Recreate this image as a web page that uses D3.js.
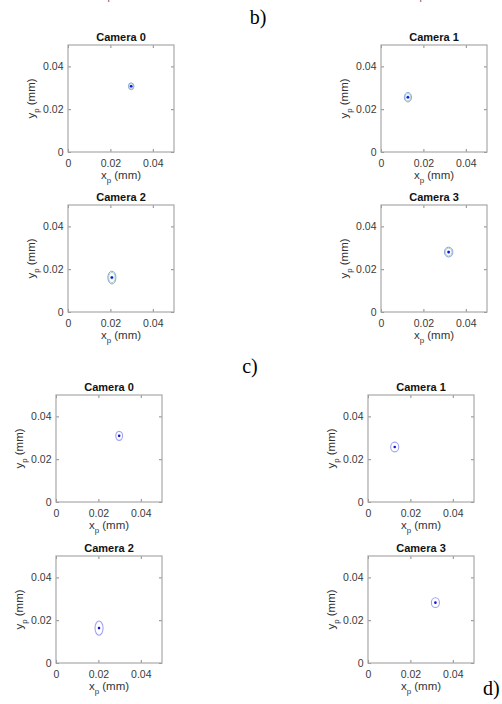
<!DOCTYPE html>
<html>
<head>
<meta charset="utf-8">
<script src="https://d3js.org/d3.v7.min.js"></script>
<style>
  body { margin: 0; background: #fff; }
  svg { display: block; font-family: "Liberation Sans", Arial, sans-serif; }
</style>
</head>
<body>
<script>
// camera names and tick labels
const cameras = ["Camera 0", "Camera 1", "Camera 2", "Camera 3"];
const tickValues = [0, 0.02, 0.04];
const tickLabels = ["0", "0.02", "0.04"];

// b) centre of each spot (mm) and ellipse half axes (mm)
const xB = [0.0298, 0.0127, 0.0207, 0.0319];
const yB = [0.0307, 0.0256, 0.0161, 0.0280];
const rxB = [0.0013, 0.0017, 0.0019, 0.0020];
const ryB = [0.0016, 0.0022, 0.0030, 0.0023];

// c) same for the second set
const xC = [0.0298, 0.0126, 0.0203, 0.0318];
const yC = [0.0309, 0.0257, 0.0163, 0.0282];
const rxC = [0.0016, 0.0019, 0.0019, 0.0019];
const ryC = [0.0021, 0.0023, 0.0033, 0.0023];

const W = 502, H = 704;
const pw = 106, ph = 107;

const svg = d3.select("body").append("svg")
  .attr("width", W)
  .attr("height", H);

// adds "x_p (mm)" / "y_p (mm)" with a subscript
function subLabel(g, letter) {
  g.append("tspan").text(letter);
  g.append("tspan").attr("dy", 4).attr("font-size", 8).text("p");
  g.append("tspan").attr("dy", -4).text(" (mm)");
}

// fragments of the x labels of the panel above (cut at the top)
[122, 434].forEach(function(cx) {
  const t = svg.append("text")
    .attr("x", cx).attr("y", -4)
    .attr("text-anchor", "middle")
    .attr("font-size", 11.5)
    .attr("fill", "#333");
  subLabel(t, "x");
});

function panel(left, top, name, cx, cy, rx, ry, style) {
  const x = d3.scaleLinear().domain([0, 0.05]).range([0, pw]);
  const y = d3.scaleLinear().domain([0, 0.05]).range([ph, 0]);
  const fmt = function(d) { return tickLabels[tickValues.indexOf(d)]; };

  const g = svg.append("g")
    .attr("transform", "translate(" + left + "," + top + ")");

  g.append("rect")
    .attr("width", pw).attr("height", ph)
    .attr("fill", "#fff");

  // bottom and left axes with labels, ticks pointing inward
  const xb = g.append("g")
    .attr("transform", "translate(0," + ph + ")")
    .call(d3.axisBottom(x).tickValues(tickValues).tickFormat(fmt).tickSize(-3).tickPadding(8));
  const yl = g.append("g")
    .call(d3.axisLeft(y).tickValues(tickValues).tickFormat(fmt).tickSize(-3).tickPadding(4.5));
  // top and right axes: ticks only
  const xt = g.append("g")
    .call(d3.axisTop(x).tickValues(tickValues).tickFormat("").tickSize(-3));
  const yr = g.append("g")
    .attr("transform", "translate(" + pw + ",0)")
    .call(d3.axisRight(y).tickValues(tickValues).tickFormat("").tickSize(-3));

  [xb, yl, xt, yr].forEach(function(a) {
    a.select(".domain").remove();
    a.selectAll(".tick line").attr("stroke", "#8a8a8a");
    a.selectAll(".tick text")
      .attr("font-size", 10.5)
      .attr("font-family", "'Liberation Sans', Arial, sans-serif")
      .attr("fill", "#3a3a3a");
  });

  g.append("rect")
    .attr("width", pw).attr("height", ph)
    .attr("fill", "none")
    .attr("stroke", "#a8a8a8")
    .attr("stroke-width", 1.2);

  g.append("text")
    .attr("x", pw / 2).attr("y", -4)
    .attr("text-anchor", "middle")
    .attr("font-size", 11)
    .attr("font-weight", "bold")
    .attr("fill", "#111")
    .text(name);

  const xl = g.append("text")
    .attr("x", pw / 2).attr("y", ph + 27)
    .attr("text-anchor", "middle")
    .attr("font-size", 11.5)
    .attr("fill", "#333");
  subLabel(xl, "x");

  const ylab = g.append("text")
    .attr("transform", "translate(-33.5," + (ph / 2) + ") rotate(-90)")
    .attr("text-anchor", "middle")
    .attr("font-size", 11.5)
    .attr("fill", "#333");
  subLabel(ylab, "y");

  const ex = x(cx), ey = y(cy);
  const erx = x(rx) - x(0), ery = y(0) - y(ry);

  if (style === "b") {
    g.append("ellipse")
      .attr("cx", ex).attr("cy", ey).attr("rx", erx).attr("ry", ery)
      .attr("fill", "none").attr("stroke", "#86a2e2").attr("stroke-width", 1);
    g.append("ellipse")
      .attr("cx", ex).attr("cy", ey).attr("rx", erx * 0.8).attr("ry", ery * 0.8)
      .attr("fill", "none").attr("stroke", "#9fcaa8").attr("stroke-width", 0.8);
    g.append("circle")
      .attr("cx", ex).attr("cy", ey).attr("r", 1.9)
      .attr("fill", "#c2d0f7");
  } else {
    g.append("ellipse")
      .attr("cx", ex).attr("cy", ey).attr("rx", erx).attr("ry", ery)
      .attr("fill", "none").attr("stroke", "#a2a2f4").attr("stroke-width", 1.1);
  }
  g.append("circle")
    .attr("cx", ex).attr("cy", ey).attr("r", 1.3)
    .attr("fill", "#1010e0");
}

// section b)
const leftsB = [68, 381], topsB = [45, 205];
cameras.forEach(function(name, i) {
  panel(leftsB[i % 2], topsB[Math.floor(i / 2)], name, xB[i], yB[i], rxB[i], ryB[i], "b");
});

// section c)
const leftsC = [56, 368], topsC = [395, 556];
cameras.forEach(function(name, i) {
  panel(leftsC[i % 2], topsC[Math.floor(i / 2)], name, xC[i], yC[i], rxC[i], ryC[i], "c");
});

// section letters
const letters = [
  {t: "b)", x: 258, y: 24, anchor: "middle"},
  {t: "c)", x: 250, y: 373, anchor: "middle"},
  {t: "d)", x: 483, y: 695, anchor: "start"}
];
svg.selectAll("text.letter")
  .data(letters)
  .enter().append("text")
  .attr("class", "letter")
  .attr("x", function(d) { return d.x; })
  .attr("y", function(d) { return d.y; })
  .attr("text-anchor", function(d) { return d.anchor; })
  .attr("font-family", "'Liberation Serif', 'Times New Roman', serif")
  .attr("font-size", 20)
  .attr("fill", "#000")
  .text(function(d) { return d.t; });
</script>
</body>
</html>
